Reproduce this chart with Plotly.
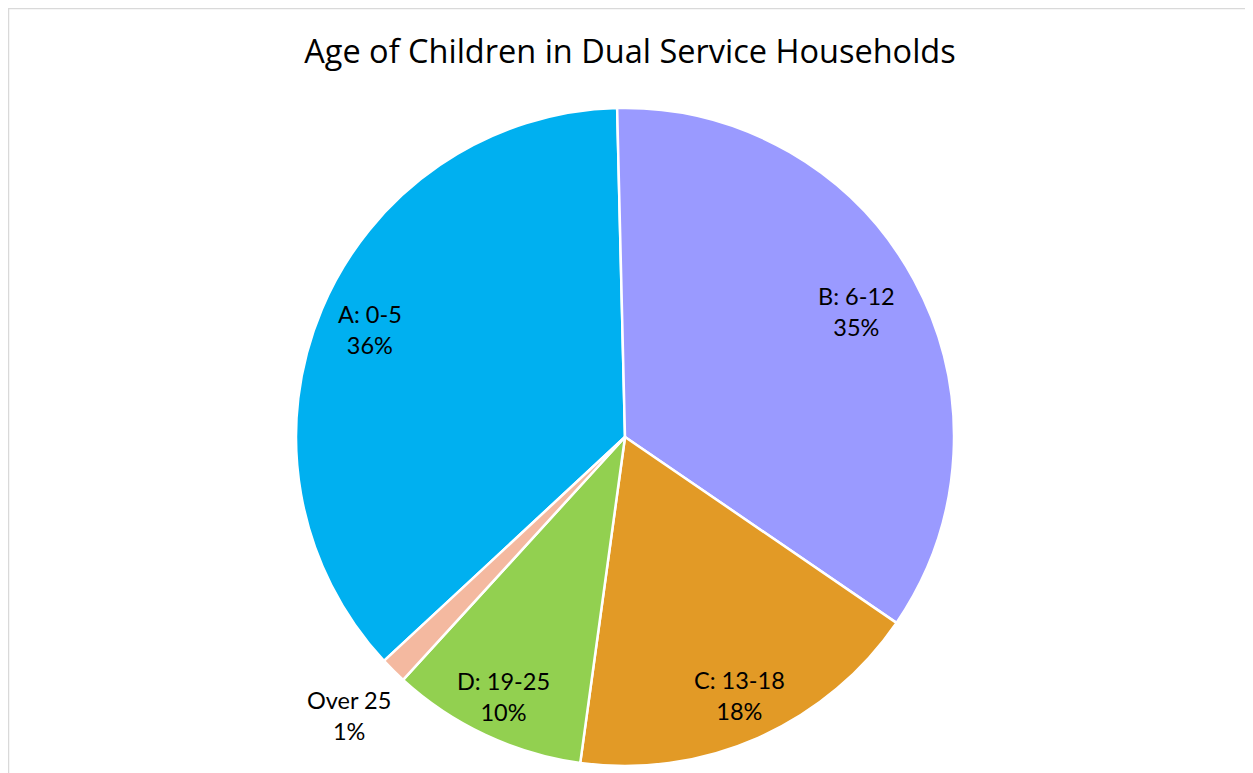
import math
import plotly.graph_objects as go

labels = ["A: 0-5", "B: 6-12", "C: 13-18", "D: 19-25", "Over 25"]
values = [36.5, 34.9, 17.6, 9.6, 1.3]
percent_labels = ["36%", "35%", "18%", "10%", "1%"]
colors = ["#00B0F0", "#9A9AFF", "#E29A26", "#92D050", "#F4B9A0"]

W, H = 1253, 773
ROTATION = -132.9          # start angle of the first slice (deg, clockwise from 12 o'clock)
CX, CY, R = 617, 429, 329  # pie centre / radius in figure pixels
label_radius = [0.84, 0.80, 0.86, 0.87, 1.19]

fig = go.Figure(go.Pie(
    labels=labels,
    values=values,
    sort=False,
    direction="clockwise",
    rotation=ROTATION,
    marker=dict(colors=colors, line=dict(color="white", width=2.5)),
    textinfo="none",
    domain=dict(x=[(CX - R) / W, (CX + R) / W], y=[1 - (CY + R) / H, 1 - (CY - R) / H]),
    showlegend=False,
    hoverinfo="label+percent",
))

# label positions derived from the slice angles
total = sum(values)
start = ROTATION
annotations = []
for lab, val, pct, rf in zip(labels, values, percent_labels, label_radius):
    mid = start + 360 * val / total / 2
    start += 360 * val / total
    a = math.radians(mid)
    px = CX + rf * R * math.sin(a)
    py = CY - rf * R * math.cos(a)
    annotations.append(dict(
        x=px / W, y=1 - py / H, xref="paper", yref="paper",
        text=f"{lab}<br>{pct}", showarrow=False,
        font=dict(family="Lato", size=23.5, color="black"),
        xanchor="center", yanchor="middle", align="center",
    ))

fig.update_layout(
    width=W, height=H,
    margin=dict(l=0, r=0, t=0, b=0, pad=0),
    paper_bgcolor="white",
    title=dict(text="Age of Children in Dual Service Households",
               font=dict(family="Open Sans", size=32.5, color="black"),
               x=622 / W, xanchor="center", y=1 - 44 / H, yanchor="middle"),
    annotations=annotations,
    shapes=[dict(type="rect", xref="paper", yref="paper",
                 x0=0, x1=1, y0=0, y1=1,
                 line=dict(color="#D9D9D9", width=2.5))],
)

fig.write_html("out.html")
